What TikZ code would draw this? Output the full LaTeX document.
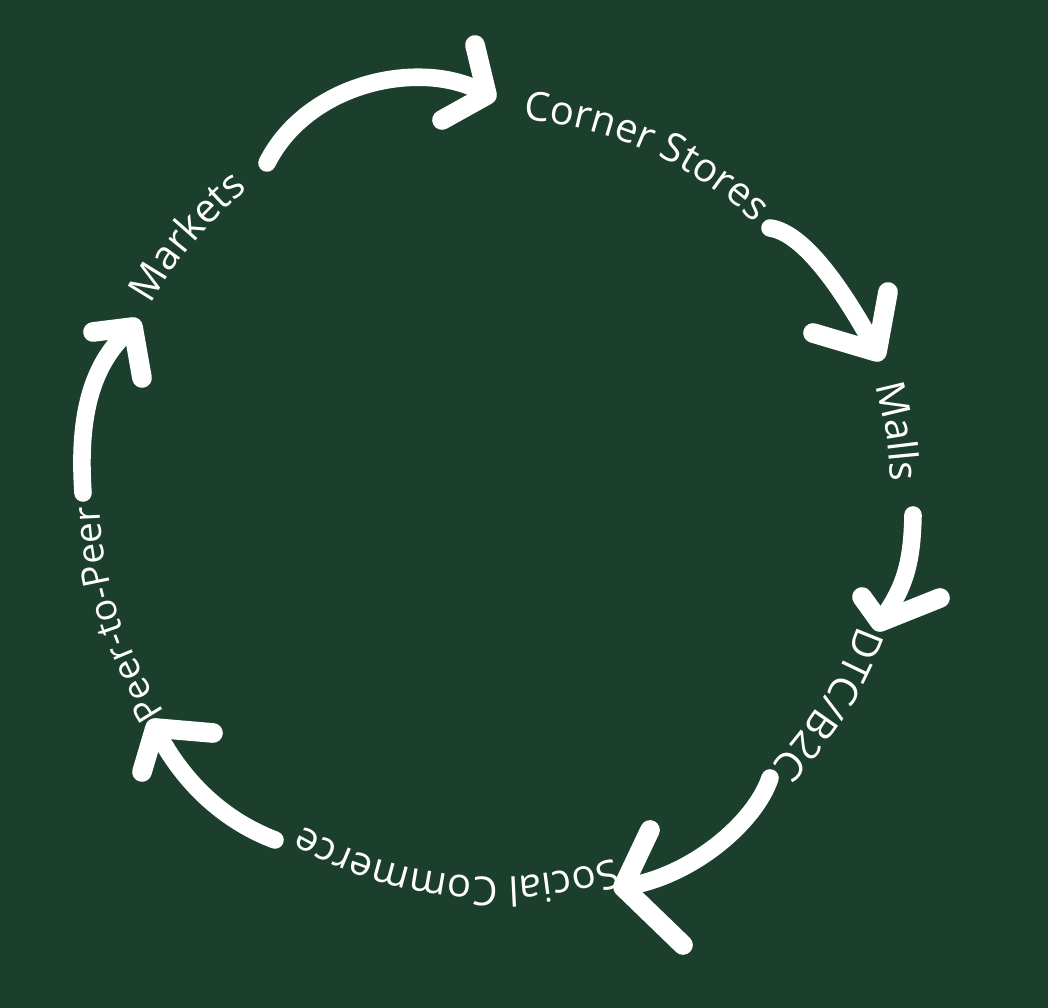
\documentclass[tikz,border=0pt]{standalone}
\usepackage{fontspec}
\setmainfont{Open Sans}
\usepackage{tikz}
\usetikzlibrary{decorations.text}

\definecolor{board}{HTML}{1C3F2D}
\newcommand{\lbl}{\fontsize{11.4}{14}\selectfont\color{white}}

\begin{document}
\begin{tikzpicture}[line cap=round,line join=round]
  \tikzstyle{shaft}=[white,line width=5pt]
  \tikzstyle{barb}=[white,line width=5.6pt]
  \tikzstyle{curved}=[decorate,decoration={text along path,text align=center}]
  \fill[board] (0,0) rectangle (10.48,10.08);
  \useasboundingbox (0,0) rectangle (10.48,10.08);
  \coordinate (c) at (4.95,5.13);
  % the six labels, clockwise on the ring
  \coordinate (markets) at ([shift={(185:3.93)}]c);
  \coordinate (corner) at ([shift={(111:3.76)}]c);
  \coordinate (malls) at ([shift={(54:3.96)}]c);
  \coordinate (dtc) at ([shift={(13:3.86)}]c);
  \coordinate (social) at ([shift={(-51:3.82)}]c);
  \coordinate (peer) at ([shift={(242.5:3.95)}]c);
  \path[curved,decoration={text={|\lbl|Markets}}] (markets) arc[start angle=185,end angle=95,radius=3.93];
  \path[curved,decoration={text={|\lbl|Corner Stores}}] (corner) arc[start angle=111,end angle=21,radius=3.76];
  \path[curved,decoration={text={|\lbl|Malls}}] (malls) arc[start angle=54,end angle=-36,radius=3.96];
  \path[curved,decoration={text={|\lbl|DTC/B2C}}] (dtc) arc[start angle=13,end angle=-77,radius=3.86];
  \path[curved,decoration={text={|\lbl|Social Commerce}}] (social) arc[start angle=-51,end angle=-141,radius=3.82];
  \path[curved,decoration={text={|\lbl\fontsize{10.6}{13}\selectfont|Peer-to-Peer}}] (peer) arc[start angle=242.5,end angle=152.5,radius=3.95];
  % arrow ends
  \coordinate (mk-out) at (2.67,8.45);
  \coordinate (cs-in) at (4.87,9.13);
  \coordinate (cs-out) at (7.70,7.80);
  \coordinate (ml-in) at (8.77,6.56);
  \coordinate (ml-out) at (9.13,4.93);
  \coordinate (dtc-in) at (8.80,3.86);
  \coordinate (dtc-out) at (7.70,2.30);
  \coordinate (sc-in) at (6.23,1.21);
  \coordinate (sc-out) at (2.75,1.68);
  \coordinate (pp-in) at (1.55,2.80);
  \coordinate (pp-out) at (0.83,5.15);
  \coordinate (mk-in) at (1.33,6.81);
  % hand drawn arrows
  \draw[shaft] (mk-out) .. controls (3.1,9.3) and (4.3,9.5) .. (cs-in);
  \draw[barb] (cs-in) -- ++(-0.12,0.50) (cs-in) -- ++(-0.45,-0.25);
  \draw[shaft] (cs-out) .. controls (8.05,7.75) and (8.45,7.15) .. (ml-in);
  \draw[barb] (ml-in) -- ++(0.11,0.60) (ml-in) -- ++(-0.64,0.19);
  \draw[shaft] (ml-out) .. controls (9.12,4.45) and (9.05,4.2) .. (dtc-in);
  \draw[barb] (dtc-in) -- ++(-0.18,0.25) (dtc-in) -- ++(0.60,0.24);
  \draw[shaft] (dtc-out) .. controls (7.55,1.85) and (6.9,1.30) .. (sc-in);
  \draw[barb] (sc-in) -- ++(0.27,0.57) (sc-in) -- ++(0.60,-0.58);
  \draw[shaft] (sc-out) .. controls (2.3,1.85) and (1.85,2.2) .. (pp-in);
  \draw[barb] (pp-in) -- ++(-0.13,-0.44) (pp-in) -- ++(0.58,-0.05);
  \draw[shaft] (pp-out) .. controls (0.78,5.9) and (0.9,6.45) .. (mk-in);
  \draw[barb] (mk-in) -- ++(-0.40,-0.05) (mk-in) -- ++(0.09,-0.51);
\end{tikzpicture}
\end{document}
